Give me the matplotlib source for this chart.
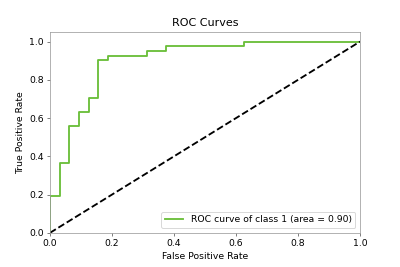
import matplotlib
matplotlib.use("Agg")
import matplotlib.pyplot as plt

fpr = [0.0, 0.0, 0.031, 0.031, 0.0625, 0.0625, 0.094, 0.094, 0.125, 0.125,
       0.156, 0.156, 0.1875, 0.1875, 0.3125, 0.3125, 0.375, 0.375, 0.625, 0.625, 1.0]
tpr = [0.0, 0.195, 0.195, 0.366, 0.366, 0.561, 0.561, 0.634, 0.634, 0.707,
       0.707, 0.902, 0.902, 0.927, 0.927, 0.951, 0.951, 0.976, 0.976, 1.0, 1.0]
label = "ROC curve of class 1 (area = 0.90)"

fig = plt.figure(figsize=(6, 4.005), dpi=400/6)
ax = fig.add_subplot(111)
fig.subplots_adjust(left=0.125, right=0.9, top=0.88, bottom=0.128)
ax.plot(fpr, tpr, lw=2, color='#6abf3a', label=label)
ax.plot([0, 1], [0, 1], 'k--', lw=2)
ax.set_xlim([0.0, 1.0])
ax.set_ylim([0.0, 1.05])
ax.set_title("ROC Curves", fontsize='large')
ax.set_xlabel("False Positive Rate", fontsize='medium')
ax.set_ylabel("True Positive Rate", fontsize='medium')
ax.tick_params(labelsize='medium')
for s in ax.spines.values():
    s.set_color('#999999')
ax.tick_params(color='#555555')
ax.legend(loc='lower right', fontsize='medium')
fig.savefig("out.png", dpi=400/6)
